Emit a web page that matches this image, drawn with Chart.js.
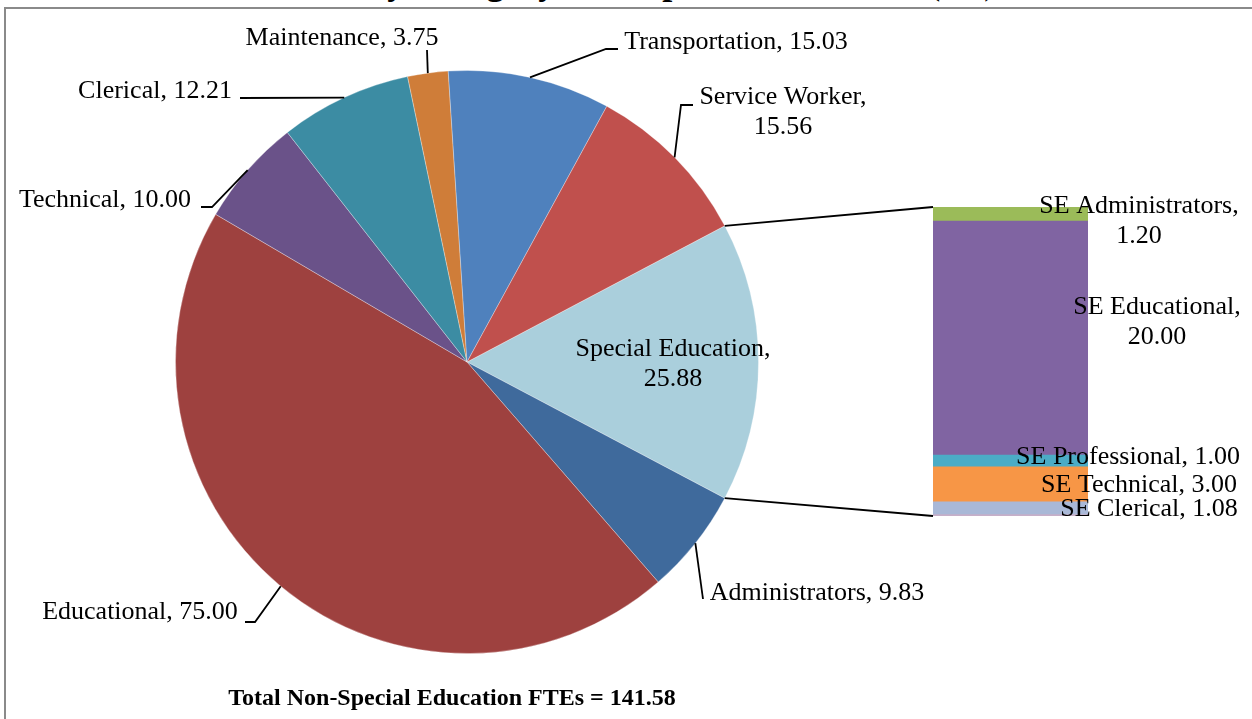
<!DOCTYPE html>
<html>
<head>
<meta charset="utf-8">
<script src="https://cdn.jsdelivr.net/npm/chart.js@4.4.1/dist/chart.umd.min.js"></script>
<style>
  html, body { margin: 0; padding: 0; background: #fff; }
  #wrap { position: relative; width: 1252px; height: 719px; overflow: hidden; background: #fff; }
  #frame { position: absolute; left: 4px; top: 7px; width: 1300px; height: 800px;
           border: 2px solid #8a8a8a; box-sizing: border-box; }
  #wrap canvas { position: absolute; left: 0; top: 0; }
  #title { position: absolute; left: 108px; width: 1052px; top: -36px; line-height: 36px;
           text-align: center; white-space: nowrap; font-family: "Liberation Serif", "Times New Roman", serif;
           font-weight: bold; font-size: 36px; color: #000; }
  #total { position: absolute; left: 152px; width: 600px; top: 684px; line-height: 26px;
           text-align: center; white-space: nowrap; font-family: "Liberation Serif", "Times New Roman", serif;
           font-weight: bold; font-size: 24px; color: #000; }
</style>
</head>
<body>
<div id="wrap">
  <div id="title">Chart 4 – FTEs by Category with Special Education (SE) Breakout</div>
  <div id="frame"></div>
  <canvas id="pieCanvas" width="1252" height="719"></canvas>
  <canvas id="barCanvas" width="1252" height="719"></canvas>
  <div id="total"></div>
</div>
<script>
//===========================================================================================
// ~~ DATA ~~

// main pie : non-SE categories + the combined Special Education slice
var pieLabels = ["Special Education", "Administrators", "Educational", "Technical", "Clerical", "Maintenance", "Transportation", "Service Worker"];
var pieValues = [25.88, 9.83, 75.00, 10.00, 12.21, 3.75, 15.03, 15.56];
var pieColors = ["#aacfdc", "#3f6a9c", "#9e413f", "#6a5289", "#3c8ca3", "#cf7d39", "#4f81bd", "#c0504d"];

// SE breakout bar, listed top to bottom
var seLabels = ["SE Administrators", "SE Educational", "SE Professional", "SE Technical", "SE Clerical", "SE Other"];
var seValues = [1.20, 20.00, 1.00, 3.00, 1.08, 0.12];
var seColors = ["#9bbb59", "#8064a2", "#4bacc6", "#f79646", "#a9b8d7", "#c6afc9"];

var totalNonSE = 141.58;

//===========================================================================================
// ~~ LABEL LAYOUT ~~
// text centre, number of lines, and the knee points of the leader line (ends on the slice edge)

var pieLabelPos = {
  "Special Education": { x: 673, y: 349, twoLines: true, leader: null },
  "Administrators":    { x: 817, y: 593, twoLines: false, leader: [[703, 599]] },
  "Educational":       { x: 140, y: 612, twoLines: false, leader: [[245, 622], [255, 622]] },
  "Technical":         { x: 105, y: 200, twoLines: false, leader: [[201, 207], [212, 207]] },
  "Clerical":          { x: 155, y: 91,  twoLines: false, leader: [[240, 98]] },
  "Maintenance":       { x: 342, y: 38,  twoLines: false, leader: [[427, 50]] },
  "Transportation":    { x: 736, y: 42,  twoLines: false, leader: [[618, 49], [606, 49]] },
  "Service Worker":    { x: 783, y: 97,  twoLines: true,  leader: [[693, 105], [681, 105]] }
};

var seLabelPos = {
  "SE Administrators": { x: 1139, y: 206, twoLines: true },
  "SE Educational":    { x: 1157, y: 307, twoLines: true },
  "SE Professional":   { x: 1128, y: 457, twoLines: false },
  "SE Technical":      { x: 1139, y: 485, twoLines: false },
  "SE Clerical":       { x: 1149, y: 509, twoLines: false }
};

var LABEL_FONT = '26px "Liberation Serif", "Times New Roman", serif';
var LINE_GAP = 30;
var LEADER_WIDTH = 1.8;

function drawLabel(ctx, pos, name, value) {
  ctx.font = LABEL_FONT;
  ctx.fillStyle = "#000";
  ctx.textAlign = "center";
  ctx.textBaseline = "middle";
  if (pos.twoLines) {
    ctx.fillText(name + ",", pos.x, pos.y);
    ctx.fillText(value.toFixed(2), pos.x, pos.y + LINE_GAP);
  } else {
    ctx.fillText(name + ", " + value.toFixed(2), pos.x, pos.y);
  }
}

//===========================================================================================
// ~~ PIE (Chart.js) ~~

var pieTotal = pieValues.reduce(function (a, b) { return a + b; }, 0);
// the SE slice sits centred on the 3 o'clock direction
var pieRotation = 90 - (pieValues[0] / pieTotal * 360) / 2;

var pieLabelsPlugin = {
  id: "pieLabels",
  afterDraw: function (chart) {
    var ctx = chart.ctx;
    var arcs = chart.getDatasetMeta(0).data;
    ctx.save();
    ctx.strokeStyle = "#000";
    ctx.lineWidth = LEADER_WIDTH;
    for (var i = 0; i < arcs.length; i++) {
      var pos = pieLabelPos[pieLabels[i]];
      if (!pos) continue;
      if (pos.leader) {
        var a = arcs[i];
        var mid = (a.startAngle + a.endAngle) / 2;
        var ex = a.x + a.outerRadius * Math.cos(mid);
        var ey = a.y + a.outerRadius * Math.sin(mid);
        ctx.beginPath();
        ctx.moveTo(pos.leader[0][0], pos.leader[0][1]);
        for (var k = 1; k < pos.leader.length; k++) ctx.lineTo(pos.leader[k][0], pos.leader[k][1]);
        ctx.lineTo(ex, ey);
        ctx.stroke();
      }
      drawLabel(ctx, pos, pieLabels[i], pieValues[i]);
    }
    ctx.restore();
  }
};

var pieChart = new Chart(document.getElementById("pieCanvas"), {
  type: "pie",
  data: {
    labels: pieLabels,
    datasets: [{
      data: pieValues,
      backgroundColor: pieColors,
      borderColor: "rgba(255,255,255,0.3)",
      borderWidth: 1
    }]
  },
  options: {
    responsive: false,
    animation: false,
    devicePixelRatio: 1,
    events: [],
    rotation: pieRotation,
    layout: { padding: { left: 175, top: 70, right: 493, bottom: 65 } },
    plugins: { legend: { display: false }, tooltip: { enabled: false } }
  },
  plugins: [pieLabelsPlugin]
});

//===========================================================================================
// ~~ SE BREAKOUT BAR (Chart.js stacked bar) ~~

// Chart.js stacks the first dataset at the bottom, so go through the list backwards
var seDatasets = [];
for (var i = seValues.length - 1; i >= 0; i--) {
  seDatasets.push({
    label: seLabels[i],
    data: [seValues[i]],
    backgroundColor: seColors[i],
    barPercentage: 1,
    categoryPercentage: 1,
    stack: "se"
  });
}
var seTotal = seValues.reduce(function (a, b) { return a + b; }, 0);

var barLabelsPlugin = {
  id: "barLabels",
  afterDraw: function (chart) {
    var ctx = chart.ctx;
    var n = chart.data.datasets.length;
    var topBar = chart.getDatasetMeta(n - 1).data[0];
    var bottomBar = chart.getDatasetMeta(0).data[0];
    var left = topBar.x - topBar.width / 2;

    // connector lines from the SE slice edges to the bar corners
    var se = pieChart.getDatasetMeta(0).data[0];
    ctx.save();
    ctx.strokeStyle = "#000";
    ctx.lineWidth = LEADER_WIDTH;
    ctx.beginPath();
    ctx.moveTo(se.x + se.outerRadius * Math.cos(se.startAngle), se.y + se.outerRadius * Math.sin(se.startAngle));
    ctx.lineTo(left, topBar.y);
    ctx.moveTo(se.x + se.outerRadius * Math.cos(se.endAngle), se.y + se.outerRadius * Math.sin(se.endAngle));
    ctx.lineTo(left, bottomBar.base);
    ctx.stroke();

    for (var d = 0; d < n; d++) {
      var ds = chart.data.datasets[d];
      var pos = seLabelPos[ds.label];
      if (!pos) continue;
      drawLabel(ctx, pos, ds.label, ds.data[0]);
    }
    ctx.restore();
  }
};

new Chart(document.getElementById("barCanvas"), {
  type: "bar",
  data: { labels: ["SE"], datasets: seDatasets },
  options: {
    responsive: false,
    animation: false,
    devicePixelRatio: 1,
    events: [],
    layout: { padding: { left: 933, top: 207, right: 164, bottom: 203 } },
    scales: {
      x: { display: false, stacked: true },
      y: { display: false, stacked: true, min: 0, max: seTotal }
    },
    plugins: { legend: { display: false }, tooltip: { enabled: false } }
  },
  plugins: [barLabelsPlugin]
});

document.getElementById("total").textContent = "Total Non-Special Education FTEs = " + totalNonSE.toFixed(2);
</script>
</body>
</html>
